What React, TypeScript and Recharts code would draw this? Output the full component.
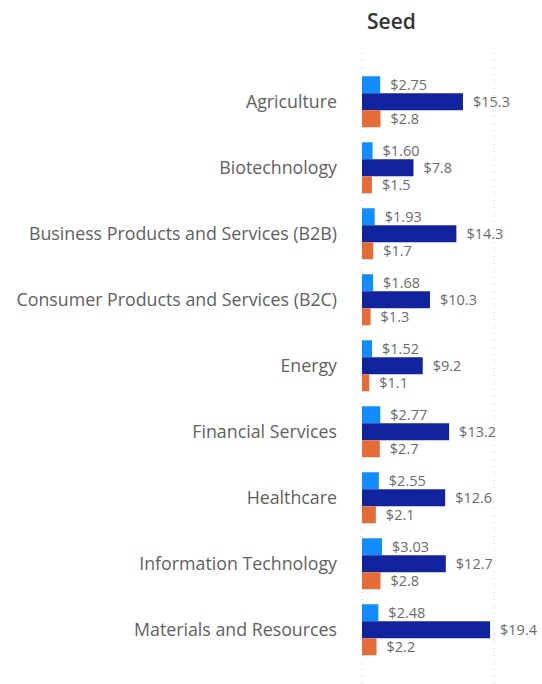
import { BarChart, Bar, XAxis, YAxis, CartesianGrid, LabelList } from "recharts";

const categories = [
  "Agriculture",
  "Biotechnology",
  "Business Products and Services (B2B)",
  "Consumer Products and Services (B2C)",
  "Energy",
  "Financial Services",
  "Healthcare",
  "Information Technology",
  "Materials and Resources",
];

// light blue, navy, orange series
const seriesA = [2.75, 1.6, 1.93, 1.68, 1.52, 2.77, 2.55, 3.03, 2.48];
const seriesB = [15.3, 7.8, 14.3, 10.3, 9.2, 13.2, 12.6, 12.7, 19.4];
const seriesC = [2.8, 1.5, 1.7, 1.3, 1.1, 2.7, 2.1, 2.8, 2.2];

const xTicks = [0, 20];

const data = categories.map((name, i) => ({
  name,
  a: seriesA[i],
  b: seriesB[i],
  c: seriesC[i],
}));

const font = "'Open Sans', 'Noto Sans', sans-serif";
const labelStyle = { fill: "#6b6b6b", fontSize: 14.5, fontFamily: font };

export default function App() {
  return (
    <div style={{ position: "absolute", left: 0, top: 0, width: 542, height: 684, background: "#fff" }}>
      <div
        style={{
          position: "absolute",
          left: 367,
          top: 6,
          fontFamily: font,
          fontSize: 21,
          fontWeight: 600,
          color: "#333",
          lineHeight: "30px",
        }}
      >
        Seed
      </div>
      <BarChart
        width={542}
        height={684}
        data={data}
        layout="vertical"
        margin={{ top: 53, right: 48, bottom: 0, left: 0 }}
        barCategoryGap="11%"
        barGap={0}
      >
        <CartesianGrid horizontal={false} stroke="#c8c8c8" strokeDasharray="1 6" />
        <XAxis type="number" domain={[0, 20]} ticks={xTicks} hide />
        <YAxis
          type="category"
          dataKey="name"
          width={362}
          axisLine={false}
          tickLine={false}
          tickSize={0}
          tickMargin={25}
          padding={{ top: 16, bottom: 21 }}
          interval={0}
          tick={{ fill: "#5f5f5f", fontSize: 17.8, fontFamily: font }}
        />
        <Bar dataKey="a" fill="#118DFF" isAnimationActive={false}>
          <LabelList dataKey="a" position="right" offset={10} style={labelStyle} formatter={(v: number) => `$${v.toFixed(2)}`} />
        </Bar>
        <Bar dataKey="b" fill="#12239E" isAnimationActive={false}>
          <LabelList dataKey="b" position="right" offset={10} style={labelStyle} formatter={(v: number) => `$${v.toFixed(1)}`} />
        </Bar>
        <Bar dataKey="c" fill="#E66C37" isAnimationActive={false}>
          <LabelList dataKey="c" position="right" offset={10} style={labelStyle} formatter={(v: number) => `$${v.toFixed(1)}`} />
        </Bar>
      </BarChart>
    </div>
  );
}
